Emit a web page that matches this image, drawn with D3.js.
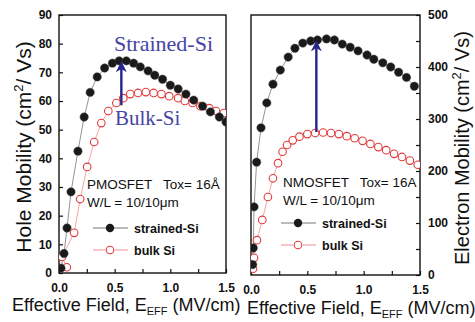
<!DOCTYPE html>
<html>
<head>
<meta charset="utf-8">
<script src="https://cdn.jsdelivr.net/npm/d3@7"></script>
<style>
  body { margin: 0; background: #fff; }
  svg { font-family: Arial, "Liberation Sans", Helvetica, sans-serif; }
  .tick text { font-weight: bold; font-size: 12px; fill: #111; }
</style>
</head>
<body>
<div id="chart"></div>
<script>
// hole mobility (PMOSFET), field in MV/cm, mobility in cm2/Vs
const pStrainedE = [0.018, 0.045, 0.072, 0.108, 0.17, 0.226, 0.28, 0.343, 0.41, 0.48, 0.54, 0.605, 0.67, 0.73, 0.80, 0.86, 0.93, 1.0, 1.07, 1.14, 1.21, 1.29, 1.36, 1.44, 1.5];
const pStrainedMu = [1.7, 6.8, 15.7, 28.3, 42.5, 54.4, 63, 68.4, 71.5, 73.2, 74, 74, 73.2, 71.9, 70.5, 69, 67.6, 65.5, 64.2, 62.4, 60.3, 58.2, 56.2, 54.4, 52.7];
const pBulkE = [0.07, 0.027, 0.136, 0.19, 0.253, 0.316, 0.38, 0.443, 0.515, 0.578, 0.64, 0.71, 0.78, 0.85, 0.92, 0.99, 1.07, 1.13, 1.2, 1.27, 1.35, 1.41, 1.48];
const pBulkMu = [2, 5.6, 14, 25.8, 37, 45.7, 52.3, 56.5, 59.3, 61, 62.4, 62.8, 63.1, 62.8, 62.4, 61.7, 61, 60, 59.3, 58.2, 57.5, 56.5, 55.8];

// electron mobility (NMOSFET)
const nStrainedE = [0.015, 0.02, 0.027, 0.05, 0.089, 0.14, 0.195, 0.26, 0.33, 0.39, 0.46, 0.53, 0.59, 0.67, 0.74, 0.81, 0.88, 0.95, 1.03, 1.09, 1.17, 1.24, 1.31, 1.38, 1.45];
const nStrainedMu = [20, 52, 131, 217, 283, 331, 367, 394, 419, 436, 446, 450, 452, 454, 452, 444, 438, 431, 423, 415, 408, 400, 390, 380, 363];
const nBulkE = [0.018, 0.027, 0.053, 0.1, 0.15, 0.195, 0.24, 0.28, 0.32, 0.37, 0.43, 0.5, 0.57, 0.64, 0.71, 0.78, 0.85, 0.92, 0.99, 1.06, 1.13, 1.2, 1.27, 1.34, 1.41, 1.48];
const nBulkMu = [12, 33, 67, 106, 150, 186, 215, 237, 250, 259, 266, 271, 273, 274, 273, 271, 267, 263, 258, 252, 246, 240, 233, 227, 220, 212];

const fieldTicks = [0, 0.25, 0.5, 0.75, 1.0, 1.25, 1.5];
const fieldLabels = [0, 0.5, 1.0, 1.5];
const holeTicks = [0, 10, 20, 30, 40, 50, 60, 70, 80, 90];
const electronTicks = [0, 50, 100, 150, 200, 250, 300, 350, 400, 450, 500];
const electronLabels = [0, 100, 200, 300, 400, 500];

const width = 475;
const height = 322;

const svg = d3.select('#chart')
  .append('svg')
    .attr('width', width)
    .attr('height', height)
    .attr('viewBox', [0, 0, width, height]);

const defs = svg.append('defs');
defs.append('marker')
    .attr('id', 'head')
    .attr('viewBox', '0 0 10 10')
    .attr('refX', 9)
    .attr('refY', 5)
    .attr('markerUnits', 'userSpaceOnUse')
    .attr('markerWidth', 11)
    .attr('markerHeight', 12)
    .attr('orient', 'auto')
  .append('path')
    .attr('d', 'M0,0 L10,5 L0,10 L3,5 Z')
    .attr('fill', '#26268a');

function drawPanel(p) {
  const x = d3.scaleLinear().domain([0, 1.5]).range([p.left, p.right]);
  const y = d3.scaleLinear().domain([0, p.yMax]).range([p.bottom, p.top]);
  const g = svg.append('g');

  g.append('clipPath').attr('id', p.id + '-clip')
    .append('rect')
      .attr('x', p.left).attr('y', p.top)
      .attr('width', p.right - p.left).attr('height', p.bottom - p.top);

  // x axis, ticks pointing inward
  g.append('g')
      .attr('transform', `translate(0, ${p.bottom})`)
      .call(d3.axisBottom(x)
        .tickValues(fieldTicks)
        .tickSize(-4)
        .tickPadding(10)
        .tickFormat(d => fieldLabels.includes(d) ? d3.format('.1f')(d) : ''))
      .call(a => a.select('.domain').remove())
      .call(a => a.selectAll('.tick line').attr('stroke', '#111').attr('stroke-width', 1.2));

  // y axis
  const yAxis = p.side === 'left' ? d3.axisLeft(y) : d3.axisRight(y);
  g.append('g')
      .attr('transform', `translate(${p.side === 'left' ? p.left : p.right}, 0)`)
      .call(yAxis
        .tickValues(p.yTicks)
        .tickSize(-4)
        .tickPadding(p.side === 'left' ? 7 : 8)
        .tickFormat(d => p.yLabels.includes(d) ? d : ''))
      .call(a => a.select('.domain').remove())
      .call(a => a.selectAll('.tick line').attr('stroke', '#111').attr('stroke-width', 1.2));

  // frame
  g.append('rect')
      .attr('x', p.left).attr('y', p.top)
      .attr('width', p.right - p.left).attr('height', p.bottom - p.top)
      .attr('fill', 'none')
      .attr('stroke', '#111')
      .attr('stroke-width', 1.4);

  const plot = g.append('g').attr('clip-path', `url(#${p.id}-clip)`);
  const line = d3.line().x(d => x(d[0])).y(d => y(d[1]));
  const bulk = d3.zip(p.bulkE, p.bulkMu);
  const strained = d3.zip(p.strainedE, p.strainedMu);

  plot.append('path')
      .datum(bulk)
      .attr('d', line)
      .attr('fill', 'none')
      .attr('stroke', '#ef8f8f')
      .attr('stroke-width', 0.8);
  plot.append('path')
      .datum(strained)
      .attr('d', line)
      .attr('fill', 'none')
      .attr('stroke', '#777')
      .attr('stroke-width', 0.8);

  plot.selectAll('.bulk')
    .data(bulk)
    .join('circle')
      .attr('class', 'bulk')
      .attr('cx', d => x(d[0]))
      .attr('cy', d => y(d[1]))
      .attr('r', 3.8)
      .attr('fill', '#fff')
      .attr('stroke', '#e23a3a')
      .attr('stroke-width', 1.1);
  plot.selectAll('.strained')
    .data(strained)
    .join('circle')
      .attr('class', 'strained')
      .attr('cx', d => x(d[0]))
      .attr('cy', d => y(d[1]))
      .attr('r', 4.2)
      .attr('fill', '#1a1a1a')
      .attr('stroke', '#444')
      .attr('stroke-width', 0.5);

  // enhancement arrow
  g.append('line')
      .attr('x1', x(p.arrow[0])).attr('y1', y(p.arrow[1]))
      .attr('x2', x(p.arrow[0])).attr('y2', y(p.arrow[2]))
      .attr('stroke', '#26268a')
      .attr('stroke-width', 2.4)
      .attr('marker-end', 'url(#head)');

  // device text
  const info = g.append('g').attr('font-size', 13.5).attr('fill', '#111');
  info.append('text').attr('x', p.textX).attr('y', p.textY).attr('xml:space', 'preserve')
      .text(p.device + '   Tox= 16' + p.ang);
  info.append('text').attr('x', p.textX).attr('y', p.textY + 18)
      .text('W/L = 10/10\u03bcm');

  // legend
  const leg = g.append('g');
  const rows = [
    {label: 'strained-Si', dy: 0, stroke: '#777'},
    {label: 'bulk Si', dy: 22, stroke: '#ef8f8f'}
  ];
  rows.forEach((r, i) => {
    const ly = p.legY + r.dy;
    leg.append('line')
        .attr('x1', p.legX).attr('x2', p.legX + 35)
        .attr('y1', ly).attr('y2', ly)
        .attr('stroke', r.stroke).attr('stroke-width', 1);
    if (i === 0) {
      leg.append('circle').attr('cx', p.legX + 17).attr('cy', ly).attr('r', 4.2).attr('fill', '#1a1a1a');
    } else {
      leg.append('rect').attr('x', p.legX + 12).attr('y', ly - 5).attr('width', 10).attr('height', 10).attr('fill', '#fff');
      leg.append('circle').attr('cx', p.legX + 17).attr('cy', ly).attr('r', 3.8)
          .attr('fill', '#fff').attr('stroke', '#e23a3a').attr('stroke-width', 1.1);
    }
    leg.append('text')
        .attr('x', p.legX + 41).attr('y', ly + 5)
        .attr('font-size', 12.5).attr('font-weight', 'bold').attr('fill', '#111')
        .text(r.label);
  });

  // x title
  const xt = g.append('text')
      .attr('x', p.xTitleX).attr('y', p.xTitleY)
      .attr('font-size', 18).attr('fill', '#111');
  xt.append('tspan').text('Effective Field, E');
  xt.append('tspan').attr('font-size', 11).attr('dy', 4).text('EFF');
  xt.append('tspan').attr('dy', -4).text(' (MV/cm)');

  // y title
  const yt = g.append('text')
      .attr('transform', `translate(${p.yTitleX}, ${(p.top + p.bottom) / 2 + 3}) rotate(-90)`)
      .attr('text-anchor', 'middle')
      .attr('font-size', p.yTitleSize).attr('fill', '#111');
  yt.append('tspan').text(p.yTitle + ' (cm');
  yt.append('tspan').attr('font-size', 13).attr('dy', -8).text('2');
  yt.append('tspan').attr('dy', 8).text('/ Vs)');
}

drawPanel({
  id: 'p', side: 'left', left: 59, right: 226, top: 15, bottom: 273, yMax: 90,
  yTicks: holeTicks, yLabels: holeTicks,
  strainedE: pStrainedE, strainedMu: pStrainedMu, bulkE: pBulkE, bulkMu: pBulkMu,
  arrow: [0.56, 58.5, 73.5],
  device: 'PMOSFET', ang: '\u00c5', textX: 87, textY: 189,
  legX: 93, legY: 228,
  xTitleX: 12, xTitleY: 311,
  yTitleX: 31, yTitle: 'Hole Mobility', yTitleSize: 21
});

drawPanel({
  id: 'n', side: 'right', left: 251, right: 420, top: 15, bottom: 275, yMax: 500,
  yTicks: electronTicks, yLabels: electronLabels,
  strainedE: nStrainedE, strainedMu: nStrainedMu, bulkE: nBulkE, bulkMu: nBulkMu,
  arrow: [0.58, 275, 449],
  device: 'NMOSFET', ang: 'A', textX: 283, textY: 187,
  legX: 281, legY: 223,
  xTitleX: 247, xTitleY: 314,
  yTitleX: 469, yTitle: 'Electron Mobility', yTitleSize: 20
});

// serif annotations in the hole panel
svg.append('text')
    .attr('x', 114).attr('y', 51)
    .attr('font-family', 'Times New Roman, Liberation Serif, serif')
    .attr('font-size', 22).attr('fill', '#4545a5')
    .text('Strained-Si');
svg.append('text')
    .attr('x', 115).attr('y', 125)
    .attr('font-family', 'Times New Roman, Liberation Serif, serif')
    .attr('font-size', 21).attr('fill', '#4545a5')
    .text('Bulk-Si');
</script>
</body>
</html>
